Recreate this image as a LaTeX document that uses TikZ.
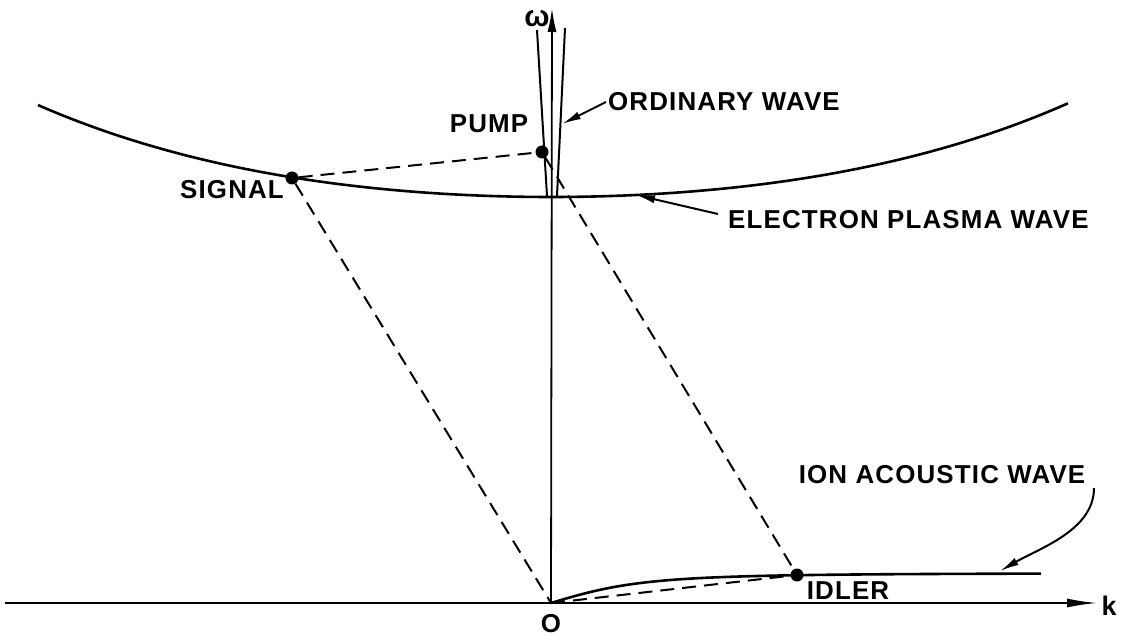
\documentclass[tikz,border=0pt]{standalone}
\usepackage{fontspec}
\newfontfamily\lettering{Liberation Sans}[LetterSpace=4.5]
\usetikzlibrary{arrows.meta,calc}

\begin{document}
\begin{tikzpicture}[x=1bp,y=-1bp,
  wave/.style={line width=2.6bp},
  axis/.style={line width=1.8bp},
  link/.style={line width=2bp,dash pattern=on 14bp off 8bp},
  dot/.style={circle,fill,inner sep=0pt,minimum size=13bp},
  lbl/.style={font=\lettering\bfseries\fontsize{26}{30}\selectfont,inner sep=0pt},
  pointer/.style={line width=2bp,-{Latex[length=19bp,width=8bp]}}]
\useasboundingbox (0,0) rectangle (1121,637);

% axes
\coordinate (origin) at (551,603);
\coordinate (kend) at (1097,603);
\coordinate (wend) at (552,8);
\draw[axis,-{Latex[length=30bp,width=9bp]}] (5,603)--(kend);
\draw[axis,-{Latex[length=24bp,width=9bp]}] (origin)--(wend);
\node[lbl,font=\lettering\bfseries\fontsize{27}{30}\selectfont] (klbl) at (1109,606) {k};
\node[lbl,font=\lettering\bfseries\fontsize{30}{30}\selectfont] (wlbl) at (537,19) {ω};
\node[lbl] (olbl) at (551,624) {O};

% electron plasma wave
\draw[wave] plot[domain=-5.13:5.17,samples=90] ({551+100*\x},{197-2.74*\x*\x-0.0286*\x*\x*\x*\x});
% ordinary wave
\draw[wave,line width=2bp] (537,30)--(547,196);
\draw[wave,line width=2bp] (565,28)--(557,196);
% ion acoustic wave
\draw[wave] plot[domain=0:4.9,samples=60] ({551+100*\x},{603-30*\x/sqrt(1+\x*\x)});

% waves in the decay
\node[dot] (pump) at (542,152) {};
\node[dot] (signal) at (292,178) {};
\node[dot] (idler) at (797,575) {};
\draw[link] (signal)--(pump);
\draw[link] (signal)--(origin);
\draw[link] (pump)--(idler);
\draw[link] (origin)--(idler);

\node[lbl] (pumplbl) at (489,124) {PUMP};
\node[lbl] (signallbl) at (232,190) {SIGNAL};
\node[lbl] (idlerlbl) at (848,591) {IDLER};

% curve names
\node[lbl,anchor=west] (owlbl) at (608,102) {ORDINARY WAVE};
\node[lbl,anchor=west] (epwlbl) at (728,220) {ELECTRON PLASMA WAVE};
\node[lbl] (iawlbl) at (942,475) {ION ACOUSTIC WAVE};
\coordinate (owpt) at (562,124);
\coordinate (epwpt) at (636,195);
\coordinate (iawpt) at (1000,571);
\coordinate (iawstart) at (1094,488);
\draw[pointer] ($(owlbl.west)+(-2,0)$)--(owpt);
\draw[pointer] ($(epwlbl.west)+(-10,-6)$)--(epwpt);
\draw[pointer] (iawstart)..controls (1094,530) and (1040,548)..(iawpt);
\end{tikzpicture}
\end{document}
